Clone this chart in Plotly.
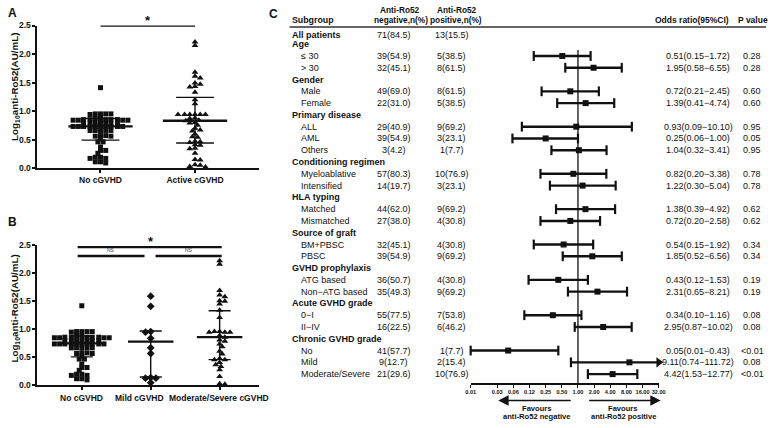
import numpy as np
import plotly.graph_objects as go

W, H = 775, 428
FONT = "Liberation Sans, Arial, Helvetica, sans-serif"
INK = "#111111"

# ---------------- Panel A data ----------------
a_categories = ["No cGVHD", "Active cGVHD"]
a_no_cgvhd = [1.41,
              0.95, 0.95, 0.95, 0.95, 0.94,
              0.87, 0.87,
              0.85, 0.85, 0.85, 0.85, 0.85, 0.84, 0.84, 0.84, 0.84,
              0.79, 0.79, 0.79, 0.79, 0.79, 0.79, 0.79,
              0.73, 0.73, 0.73, 0.73, 0.73, 0.73, 0.73, 0.73, 0.73, 0.73,
              0.66, 0.66, 0.66, 0.66, 0.66,
              0.57, 0.57, 0.56, 0.56,
              0.51, 0.46, 0.46, 0.37, 0.31, 0.31, 0.26, 0.19, 0.19, 0.17, 0.17, 0.11, 0.11, 0.09]
a_active_cgvhd = [2.21, 2.15, 1.68, 1.61, 1.58, 1.49, 1.47, 1.43, 1.42, 1.33, 1.20, 1.13,
                  0.94, 0.94, 0.94, 0.94, 0.94, 0.94,
                  0.88, 0.87, 0.84, 0.83, 0.80, 0.79, 0.75, 0.70, 0.67, 0.65, 0.60, 0.55, 0.54,
                  0.47, 0.46, 0.45, 0.41, 0.40, 0.35, 0.34, 0.26, 0.15, 0.14, 0.06, 0.05, 0.03, 0.02]
a_center = [0.73, 0.83]
a_lower = [0.49, 0.44]
a_upper = [0.87, 1.24]

# ---------------- Panel B data ----------------
b_categories = ["No cGVHD", "Mild cGVHD", "Moderate/Severe cGVHD"]
b_no_cgvhd = list(a_no_cgvhd)
b_mild = [1.58, 1.40, 0.95, 0.94, 0.83, 0.66, 0.56, 0.13, 0.12, 0.12, 0.04]
b_mod_severe = [2.21, 2.15, 1.68, 1.60, 1.57, 1.50, 1.49, 1.44, 1.33, 1.20,
                0.95, 0.94, 0.94, 0.94, 0.95, 0.88, 0.85, 0.80, 0.78, 0.73, 0.68,
                0.60, 0.55, 0.47, 0.45, 0.45, 0.40, 0.36, 0.33, 0.27, 0.15, 0.02, 0.01]
b_center = [0.74, 0.77, 0.85]
b_lower = [0.50, 0.14, 0.45]
b_upper = [0.87, 0.96, 1.32]

y_ticks = [0.0, 0.5, 1.0, 1.5, 2.0, 2.5]

# ---------------- Panel C data ----------------
subgroups = ["All patients", "Age", "≤ 30", "&gt; 30", "Gender", "Male", "Female",
             "Primary disease", "ALL", "AML", "Others", "Conditioning regimen",
             "Myeloablative", "Intensified", "HLA typing", "Matched", "Mismatched",
             "Source of graft", "BM+PBSC", "PBSC", "GVHD prophylaxis", "ATG based",
             "Non−ATG based", "Acute GVHD grade", "0−I", "II−IV", "Chronic GVHD grade",
             "No", "Mild", "Moderate/Severe"]
is_header = [True, True, False, False, True, False, False,
             True, False, False, False, True,
             False, False, True, False, False,
             True, False, False, True, False,
             False, True, False, False, True,
             False, False, False]
neg_n = ["71(84.5)", "", "39(54.9)", "32(45.1)", "", "49(69.0)", "22(31.0)",
         "", "29(40.9)", "39(54.9)", "3(4.2)", "",
         "57(80.3)", "14(19.7)", "", "44(62.0)", "27(38.0)",
         "", "32(45.1)", "39(54.9)", "", "36(50.7)",
         "35(49.3)", "", "55(77.5)", "16(22.5)", "",
         "41(57.7)", "9(12.7)", "21(29.6)"]
pos_n = ["13(15.5)", "", "5(38.5)", "8(61.5)", "", "8(61.5)", "5(38.5)",
         "", "9(69.2)", "3(23.1)", "1(7.7)", "",
         "10(76.9)", "3(23.1)", "", "9(69.2)", "4(30.8)",
         "", "4(30.8)", "9(69.2)", "", "4(30.8)",
         "9(69.2)", "", "7(53.8)", "6(46.2)", "",
         "1(7.7)", "2(15.4)", "10(76.9)"]
odds = [None, None, 0.51, 1.95, None, 0.72, 1.39,
        None, 0.93, 0.25, 1.04, None,
        0.82, 1.22, None, 1.38, 0.72,
        None, 0.54, 1.85, None, 0.43,
        2.31, None, 0.34, 2.95, None,
        0.05, 9.11, 4.42]
ci_low = [None, None, 0.15, 0.58, None, 0.21, 0.41,
          None, 0.09, 0.06, 0.32, None,
          0.20, 0.30, None, 0.39, 0.20,
          None, 0.15, 0.52, None, 0.12,
          0.65, None, 0.10, 0.87, None,
          0.01, 0.74, 1.53]
ci_high = [None, None, 1.72, 6.55, None, 2.45, 4.74,
           None, 10.10, 1.00, 3.41, None,
           3.38, 5.04, None, 4.92, 2.58,
           None, 1.92, 6.56, None, 1.53,
           8.21, None, 1.16, 10.02, None,
           0.43, 111.72, 12.77]
p_values = ["", "", "0.28", "0.28", "", "0.60", "0.60",
            "", "0.95", "0.05", "0.95", "",
            "0.78", "0.78", "", "0.62", "0.62",
            "", "0.34", "0.34", "", "0.19",
            "0.19", "", "0.08", "0.08", "",
            "&lt;0.01", "0.08", "&lt;0.01"]
or_tickvals = [0.01, 0.03125, 0.0625, 0.125, 0.25, 0.5, 1, 2, 4, 8, 16, 32]
or_ticktext = ["0.01", "0.03", "0.06", "0.12", "0.25", "0.50", "1.00",
               "2.00", "4.00", "8.00", "16.00", "32.00"]
or_axis_max = 32


def pxx(px):
    return px / W


def pxy(py):
    return 1 - py / H


def swarm(values, ypx_per_unit, xpx_per_unit, dx=5.3, dy=3.3):
    """Simple beeswarm: each point takes the nearest free horizontal slot."""
    vals = np.asarray(values, float)
    order = np.argsort(-vals, kind="stable")
    placed = []
    offs = np.zeros(len(vals))
    for n, idx in enumerate(order):
        y = vals[idx] * ypx_per_unit
        cands = [0.0]
        for j in range(1, 60):
            s = j * dx / 4
            cands += [s, -s] if n % 2 == 0 else [-s, s]
        for c in cands:
            if all(((c - px) / dx) ** 2 + ((y - py) / dy) ** 2 >= 1 for px, py in placed):
                placed.append((c, y))
                offs[idx] = c / xpx_per_unit
                break
    return offs


fig = go.Figure()

# ---------- Panel A geometry ----------
A_X0, A_UNIT = 97, 96
A_YB, A_YT = 167, 21
a_ypu = (A_YB - A_YT) / 2.5
# ---------- Panel B geometry ----------
B_X0, B_UNIT = 78, 70
B_YB, B_YT = 389, 245.3
b_ypu = (B_YB - B_YT) / 2.5

tickfont = dict(family=FONT, size=8.5, color=INK, weight="bold")

def add_group(values, cat, xaxis, yaxis, symbol, ypu, unit, size):
    off = swarm(values, ypu, unit)
    fig.add_trace(go.Scatter(x=cat + off, y=values, mode="markers", xaxis=xaxis, yaxis=yaxis,
                             marker=dict(symbol=symbol, size=size, color=INK, line=dict(width=0)),
                             cliponaxis=False, hoverinfo="skip"))

add_group(a_no_cgvhd, 0, "x", "y", "square", a_ypu, A_UNIT, 5)
add_group(a_active_cgvhd, 1, "x", "y", "triangle-up", a_ypu, A_UNIT, 6)
add_group(b_no_cgvhd, 0, "x2", "y2", "square", b_ypu, B_UNIT, 5)
add_group(b_mild, 1, "x2", "y2", "diamond", b_ypu, B_UNIT, 6)
add_group(b_mod_severe, 2, "x2", "y2", "triangle-up", b_ypu, B_UNIT, 6)


def add_stats(center, lower, upper, xaxis, yaxis, wm, ws):
    mx, my, sx, sy = [], [], [], []
    for i, (c, lo, hi) in enumerate(zip(center, lower, upper)):
        mx += [i - wm, i + wm, None]
        my += [c, c, None]
        sx += [i - ws, i + ws, None, i - ws, i + ws, None, i, i, None]
        sy += [lo, lo, None, hi, hi, None, lo, hi, None]
    fig.add_trace(go.Scatter(x=mx, y=my, mode="lines", xaxis=xaxis, yaxis=yaxis,
                             line=dict(color=INK, width=2.3), hoverinfo="skip"))
    fig.add_trace(go.Scatter(x=sx, y=sy, mode="lines", xaxis=xaxis, yaxis=yaxis,
                             line=dict(color=INK, width=1.4), hoverinfo="skip"))

add_stats(a_center, a_lower, a_upper, "x", "y", 0.34, 0.2)
add_stats(b_center, b_lower, b_upper, "x2", "y2", 0.33, 0.16)

# ---------- Panel C forest ----------
row_pos = np.arange(1, len(subgroups) + 1, dtype=float)
row_pos[0] = 1.25
lx, ly, capx, capy, px_, py_, arx, ary = [], [], [], [], [], [], [], []
for k in range(len(subgroups)):
    if odds[k] is None:
        continue
    hi = min(ci_high[k], or_axis_max)
    lx += [ci_low[k], hi, None]
    ly += [row_pos[k], row_pos[k], None]
    capx.append(ci_low[k]); capy.append(row_pos[k])
    if ci_high[k] <= or_axis_max:
        capx.append(ci_high[k]); capy.append(row_pos[k])
    else:
        arx.append(or_axis_max); ary.append(row_pos[k])
    px_.append(odds[k]); py_.append(row_pos[k])

fig.add_trace(go.Scatter(x=[1, 1], y=[2.5, 30.75], mode="lines", xaxis="x3", yaxis="y3",
                         line=dict(color=INK, width=1.3), hoverinfo="skip", cliponaxis=False))
fig.add_trace(go.Scatter(x=lx, y=ly, mode="lines", xaxis="x3", yaxis="y3",
                         line=dict(color=INK, width=2.4), hoverinfo="skip", cliponaxis=False))
fig.add_trace(go.Scatter(x=capx, y=capy, mode="markers", xaxis="x3", yaxis="y3",
                         marker=dict(symbol="line-ns", size=7, line=dict(color=INK, width=2.2)),
                         hoverinfo="skip", cliponaxis=False))
fig.add_trace(go.Scatter(x=arx, y=ary, mode="markers", xaxis="x3", yaxis="y3",
                         marker=dict(symbol="triangle-right", size=9, color=INK),
                         hoverinfo="skip", cliponaxis=False))
fig.add_trace(go.Scatter(x=px_, y=py_, mode="markers", xaxis="x3", yaxis="y3",
                         marker=dict(symbol="square", size=6, color=INK),
                         hoverinfo="skip", cliponaxis=False))

ann = []
def text(x, y, t, size=9, bold=False, xanchor="center", yref="paper", yanchor="middle", angle=0):
    ann.append(dict(x=x, y=y, xref="paper", yref=yref, text=t, showarrow=False,
                    xanchor=xanchor, yanchor=yanchor, textangle=angle, borderpad=0,
                    font=dict(family=FONT, size=size, color=INK, weight="bold" if bold else "normal")))

# table rows
for k, name in enumerate(subgroups):
    y = row_pos[k]
    if is_header[k]:
        text(pxx(290), y, name, 9, True, "left", "y3")
    else:
        text(pxx(300), y, name, 9, False, "left", "y3")
    if neg_n[k]:
        text(pxx(395), y, neg_n[k], 9, False, "center", "y3")
    if pos_n[k]:
        text(pxx(454), y, pos_n[k], 9, False, "center", "y3")
    if odds[k] is not None:
        text(pxx(704), y, f"{odds[k]:.2f}({ci_low[k]:.2f}−{ci_high[k]:.2f})", 9, False, "center", "y3")
        text(pxx(759), y, p_values[k], 9, False, "center", "y3")

# headers
text(pxx(290), pxy(15), "Subgroup", 8.8, True, "left")
text(pxx(401), pxy(5), "Anti-Ro52", 8.3, True)
text(pxx(402), pxy(15.5), "negative,n(%)", 8.3, True)
text(pxx(459), pxy(5), "Anti-Ro52", 8.3, True)
text(pxx(458), pxy(15.5), "positive,n(%)", 8.3, True)
text(pxx(698), pxy(15.5), "Odds ratio(95%CI)", 8.5, True)
text(pxx(760), pxy(15.5), "P value", 8.5, True)

# panel letters
text(pxx(8), pxy(8), "A", 12, True)
text(pxx(8), pxy(222), "B", 12, True)
text(pxx(273), pxy(9), "C", 12, True)

# y titles
ytitle = "Log<sub>10</sub>anti-Ro52(AU/mL)"
text(pxx(10), pxy(84), ytitle, 9.8, True, angle=-90)
text(pxx(10), pxy(311), ytitle, 9.8, True, angle=-90)

# panel B category labels (Prism shifts the middle one to avoid overlap)
for lab, cx in zip(b_categories, [78, 137, 217]):
    text(pxx(cx), pxy(402), lab, 8.5, True)

# favours text
text(pxx(540), pxy(413), "Favours", 7.6, True)
text(pxx(540), pxy(421.5), "anti-Ro52 negative", 7.6, True)
text(pxx(628), pxy(413), "Favours", 7.6, True)
text(pxx(628), pxy(421.5), "anti-Ro52 positive", 7.6, True)

# significance marks
ann.append(dict(x=0.5, y=2.5, xref="x", yref="y", text="*", showarrow=False, yanchor="bottom",
                yshift=-4, font=dict(family=FONT, size=13, color=INK, weight="bold")))
b_top = (B_YB - 248) / b_ypu
b_ns = (B_YB - 257) / b_ypu
ann.append(dict(x=1.0, y=b_top, xref="x2", yref="y2", text="*", showarrow=False, yanchor="bottom",
                yshift=-4, font=dict(family=FONT, size=13, color=INK, weight="bold")))
ann.append(dict(x=0.43, y=b_ns, xref="x2", yref="y2", text="NS", showarrow=False, yanchor="bottom",
                yshift=1, font=dict(family=FONT, size=5, color="#444444")))
ann.append(dict(x=1.55, y=b_ns, xref="x2", yref="y2", text="NS", showarrow=False, yanchor="bottom",
                yshift=1, font=dict(family=FONT, size=5, color="#444444")))

# favours arrows
ann.append(dict(x=pxx(501), y=pxy(405), xref="paper", yref="paper", text="", showarrow=True,
                ax=74, ay=0, arrowhead=2, arrowsize=1.3, arrowwidth=1.6, arrowcolor=INK))
ann.append(dict(x=pxx(666), y=pxy(405), xref="paper", yref="paper", text="", showarrow=True,
                ax=-73, ay=0, arrowhead=2, arrowsize=1.3, arrowwidth=1.6, arrowcolor=INK))

shapes = [
    dict(type="line", xref="paper", yref="paper", x0=pxx(289), x1=pxx(773), y0=pxy(22.5), y1=pxy(22.5),
         line=dict(color="#333333", width=1.5)),
    dict(type="line", xref="x", yref="y", x0=0, x1=1, y0=2.5, y1=2.5, line=dict(color=INK, width=2.5)),
    dict(type="line", xref="x2", yref="y2", x0=-0.06, x1=2.03, y0=b_top, y1=b_top,
         line=dict(color=INK, width=2.3)),
    dict(type="line", xref="x2", yref="y2", x0=-0.06, x1=0.91, y0=b_ns, y1=b_ns,
         line=dict(color=INK, width=2.3)),
    dict(type="line", xref="x2", yref="y2", x0=1.07, x1=2.03, y0=b_ns, y1=b_ns,
         line=dict(color=INK, width=2.3)),
]

axis_common = dict(showline=True, linecolor=INK, linewidth=2, ticks="outside", ticklen=3,
                   tickwidth=1.5, tickcolor=INK, showgrid=False, zeroline=False, tickfont=tickfont,
                   tickangle=0)

fig.update_layout(
    width=W, height=H, margin=dict(l=0, r=0, t=0, b=0),
    paper_bgcolor="white", plot_bgcolor="white", showlegend=False,
    xaxis=dict(domain=[pxx(33), pxx(258)], range=[(33 - A_X0) / A_UNIT, (258 - A_X0) / A_UNIT],
               tickvals=[0, 1], ticktext=a_categories, anchor="y", **axis_common),
    yaxis=dict(domain=[pxy(A_YB), pxy(A_YT)], range=[0, 2.5], tickvals=y_ticks,
               tickformat=".1f", anchor="x", **axis_common),
    xaxis2=dict(domain=[pxx(33), pxx(258)], range=[(33 - B_X0) / B_UNIT, (258 - B_X0) / B_UNIT],
                tickvals=[0, 1, 2], ticktext=["", "", ""], anchor="y2", **axis_common),
    yaxis2=dict(domain=[pxy(B_YB), pxy(B_YT)], range=[0, 2.5], tickvals=y_ticks,
                tickformat=".1f", anchor="x2", **axis_common),
    xaxis3=dict(type="log", domain=[pxx(473), pxx(664)], range=[np.log10(0.01), np.log10(or_axis_max)],
                tickvals=or_tickvals, ticktext=or_ticktext, anchor="y3", showline=True,
                linecolor=INK, linewidth=1.6, ticks="outside", ticklen=3, tickwidth=1.3,
                tickcolor=INK, showgrid=False, zeroline=False, tickangle=0,
                tickfont=dict(family=FONT, size=5.6, color=INK, weight="bold")),
    yaxis3=dict(domain=[pxy(387), pxy(16)], range=[30.75, 0], visible=False, anchor="x3"),
    annotations=ann, shapes=shapes,
)

fig.write_html("out.html", config={"displayModeBar": False},
               post_script="document.body.style.margin='0';document.body.style.padding='0';"
                           "document.body.style.overflow='hidden';")
